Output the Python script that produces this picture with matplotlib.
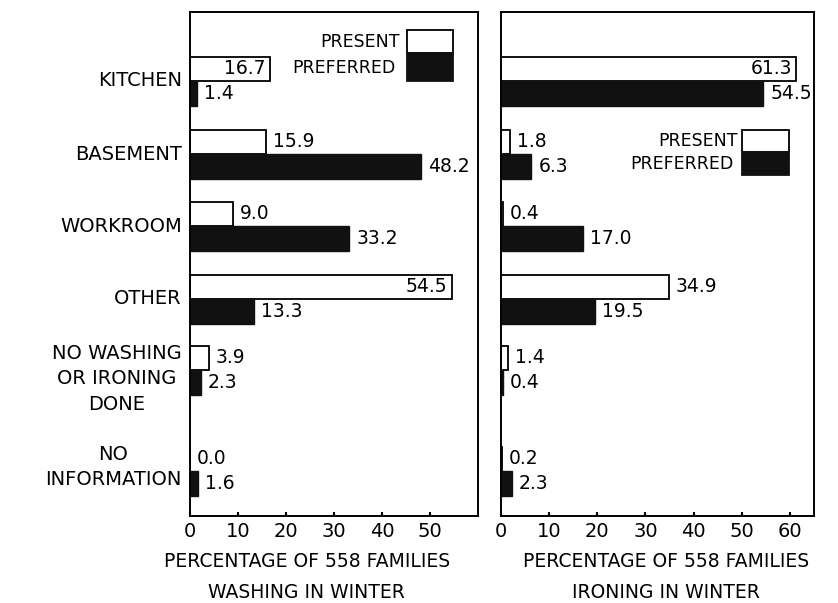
import matplotlib.pyplot as plt
from matplotlib.patches import Rectangle

# data
categories = ['KITCHEN', 'BASEMENT', 'WORKROOM', 'OTHER',
              'NO WASHING\nOR IRONING\nDONE', 'NO\nINFORMATION']
wash_present = [16.7, 15.9, 9.0, 54.5, 3.9, 0.0]
wash_preferred = [1.4, 48.2, 33.2, 13.3, 2.3, 1.6]
iron_present = [61.3, 1.8, 0.4, 34.9, 1.4, 0.2]
iron_preferred = [54.5, 6.3, 17.0, 19.5, 0.4, 2.3]
wash_ticks = [0, 10, 20, 30, 40, 50]
iron_ticks = [0, 10, 20, 30, 40, 50, 60]

# layout (y in pixel-like units from the top of the panel)
group_pos = [81, 154, 226, 299, 370, 471]
label_pos = [81, 154, 226, 299, 379, 467]
bar_h = 24.5
# labels written inside the bar end
inside_wash = [(0, 0), (0, 3)]
inside_iron = [(0, 0)]

plt.rcParams['font.family'] = 'DejaVu Sans'
fig = plt.figure(figsize=(8.38, 6.03), dpi=100)
ax1 = fig.add_axes([190 / 838, 1 - 516 / 603, 288 / 838, 504 / 603])
ax2 = fig.add_axes([501 / 838, 1 - 516 / 603, 313 / 838, 504 / 603])


def draw_panel(ax, present, preferred, ticks, xmax, inside, xlabel, lab_x):
    y_pres = [p - bar_h / 2 for p in group_pos]
    y_pref = [p + bar_h / 2 for p in group_pos]
    ax.barh(y_pres, present, height=bar_h, color='white', edgecolor='black', linewidth=1.3)
    ax.barh(y_pref, preferred, height=bar_h, color='#111111', edgecolor='#111111', linewidth=1.0)
    for s, (vals, ys) in enumerate([(present, y_pres), (preferred, y_pref)]):
        for i, (v, y) in enumerate(zip(vals, ys)):
            if (s, i) in inside:
                ax.annotate(f'{v:.1f}', (v, y), xytext=(-3, 0), textcoords='offset points',
                            ha='right', va='center', fontsize=13.5)
            else:
                ax.annotate(f'{v:.1f}', (v, y), xytext=(5, 0), textcoords='offset points',
                            ha='left', va='center', fontsize=13.5)
    ax.set_xlim(0, xmax)
    ax.set_ylim(516, 12)
    ax.set_xticks(ticks)
    ax.tick_params(axis='x', direction='in', length=3, width=1.5, labelsize=14, pad=4)
    ax.set_yticks([])
    for sp in ax.spines.values():
        sp.set_linewidth(1.4)
    ax.set_xlabel(xlabel, fontsize=13.5, linespacing=1.75, ha='center', va='top')
    ax.xaxis.set_label_coords(lab_x, -0.072)


draw_panel(ax1, wash_present, wash_preferred, wash_ticks, 60, inside_wash,
           'PERCENTAGE OF 558 FAMILIES\nWASHING IN WINTER', 0.406)
draw_panel(ax2, iron_present, iron_preferred, iron_ticks, 65, inside_iron,
           'PERCENTAGE OF 558 FAMILIES\nIRONING IN WINTER', 0.527)

# category labels, left of the first panel
for name, y in zip(categories, label_pos):
    ax1.annotate(name, (0, y), xycoords=('axes fraction', 'data'), xytext=(-6, 0),
                 textcoords='offset points', ha='right', va='center',
                 multialignment='center', linespacing=1.45, fontsize=14)


def draw_legend(ax, x0, x1, ytop, ymid, ybot, tx, ty1, ty2):
    ax.add_patch(Rectangle((x0, ymid), x1 - x0, ytop - ymid, transform=ax.transAxes,
                           facecolor='white', edgecolor='black', linewidth=1.3, clip_on=False))
    ax.add_patch(Rectangle((x0, ybot), x1 - x0, ymid - ybot, transform=ax.transAxes,
                           facecolor='#111111', edgecolor='#111111', linewidth=1.3, clip_on=False))
    ax.text(tx, ty1, 'PRESENT', transform=ax.transAxes, ha='right', va='center', fontsize=12.5)
    ax.text(tx - 0.015, ty2, 'PREFERRED', transform=ax.transAxes, ha='right', va='center', fontsize=12.5)


draw_legend(ax1, 0.753, 0.913, 0.964, 0.919, 0.863, 0.730, 0.940, 0.889)
draw_legend(ax2, 0.770, 0.920, 0.766, 0.722, 0.677, 0.757, 0.744, 0.698)

fig.savefig('out.png', dpi=100)
